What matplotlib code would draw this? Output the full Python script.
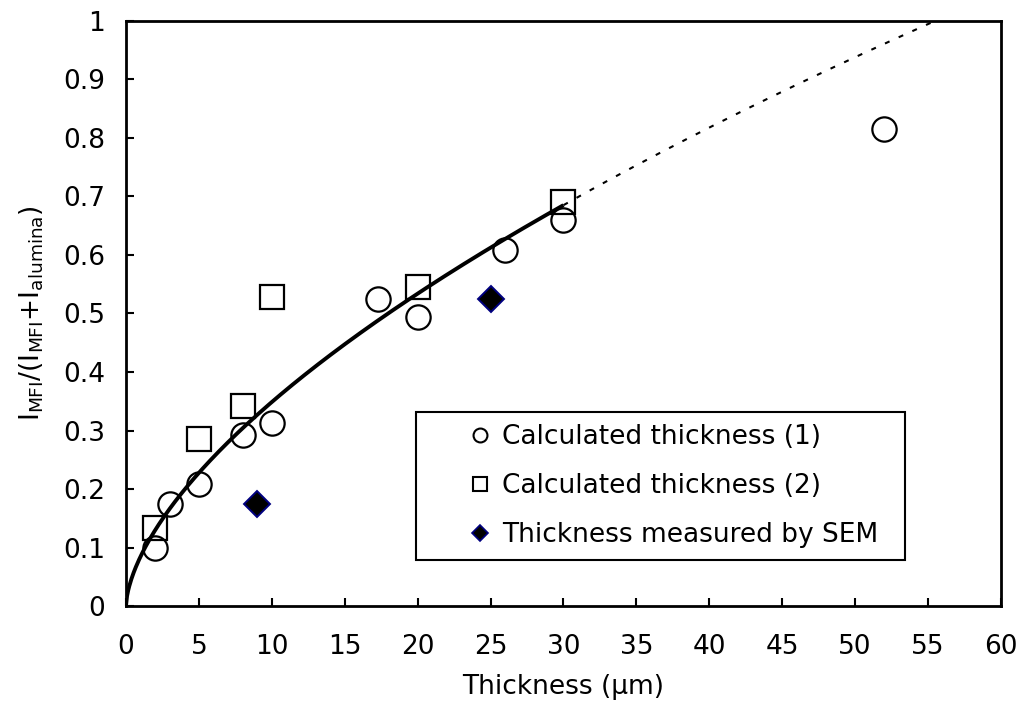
import numpy as np
import matplotlib
matplotlib.use("Agg")
import matplotlib.pyplot as plt
from matplotlib.lines import Line2D
from matplotlib.ticker import FuncFormatter

plt.rcParams['font.family'] = ['DejaVu Sans']
plt.rcParams['mathtext.fontset'] = 'dejavusans'

# ---- data ----
calc1_x = [2, 3, 5, 8, 10, 17.3, 20, 26, 30, 52]
calc1_y = [0.10, 0.174, 0.208, 0.292, 0.313, 0.525, 0.494, 0.609, 0.660, 0.815]

calc2_x = [2, 5, 8, 10, 20, 30]
calc2_y = [0.133, 0.285, 0.342, 0.528, 0.545, 0.690]

sem_x = [9, 25]
sem_y = [0.174, 0.525]

# power trendline y = a * x^b (solid over fitted range, dotted extension)
fit_a = 0.0846
fit_b = 0.615
fit_solid_range = (0.0, 30.0)
fit_ext_range = (30.0, 60.0)

labels = ["Calculated thickness (1)", "Calculated thickness (2)", "Thickness measured by SEM"]
xticks = list(range(0, 61, 5))
yticks = [0, 0.1, 0.2, 0.3, 0.4, 0.5, 0.6, 0.7, 0.8, 0.9, 1]

FS = 19

fig = plt.figure(figsize=(10.24, 7.06), dpi=100)
ax = fig.add_axes([0.1230, 0.1416, 0.8545, 0.8287])

xs = np.linspace(*fit_solid_range, 400)
ax.plot(xs, fit_a * xs ** fit_b, color='black', lw=2.8, solid_capstyle='butt', zorder=2)
xe = np.linspace(*fit_ext_range, 200)
ax.plot(xe, fit_a * xe ** fit_b, color='black', lw=1.5, linestyle=(0, (2.4, 4.8)), zorder=2)

ax.plot(calc1_x, calc1_y, linestyle='none', marker='o', ms=17.5, mfc='none', mec='black', mew=1.6, zorder=3)
ax.plot(calc2_x, calc2_y, linestyle='none', marker='s', ms=17.0, mfc='none', mec='black', mew=1.6, zorder=3)
ax.plot(sem_x, sem_y, linestyle='none', marker='D', ms=13.5, mfc='black', mec='#000080', mew=1.4, zorder=4)

ax.set_xlim(0, 60)
ax.set_ylim(0, 1)
ax.set_xticks(xticks)
ax.set_yticks(yticks)
ax.yaxis.set_major_formatter(FuncFormatter(lambda v, p: f"{v:g}"))
ax.tick_params(axis='both', direction='in', length=6, width=1.5, labelsize=FS)
ax.tick_params(axis='y', pad=15)
ax.tick_params(axis='x', pad=20)
for s in ax.spines.values():
    s.set_linewidth(2.0)
    s.set_color('black')

ax.set_xlabel("Thickness (μm)", fontsize=FS, labelpad=10)
ax.set_ylabel(r"$\mathregular{I_{MFI}/(I_{MFI}{+}I_{alumina})}$", fontsize=FS, labelpad=12)

handles = [
    Line2D([], [], linestyle='none', marker='o', ms=10, mfc='none', mec='black', mew=1.5),
    Line2D([], [], linestyle='none', marker='s', ms=10, mfc='none', mec='black', mew=1.5),
    Line2D([], [], linestyle='none', marker='D', ms=8, mfc='black', mec='#000080', mew=1.2),
]
# legend box in axes fraction
lx0 = (416 - 126) / 875
lx1 = (905 - 126) / 875
ly1 = (606 - 412) / 585
leg = ax.legend(handles, labels, loc='upper left', bbox_to_anchor=(lx0, ly1 - 0.3, lx1 - lx0, 0.3),
                mode='expand', fontsize=FS, frameon=True, fancybox=False, shadow=False,
                borderpad=0.45, handlelength=3.94, handletextpad=-1.13, labelspacing=0.88,
                borderaxespad=0.0)
leg.get_frame().set_edgecolor('black')
leg.get_frame().set_linewidth(1.5)
leg.get_frame().set_alpha(1)

fig.savefig("out.png", dpi=100)
